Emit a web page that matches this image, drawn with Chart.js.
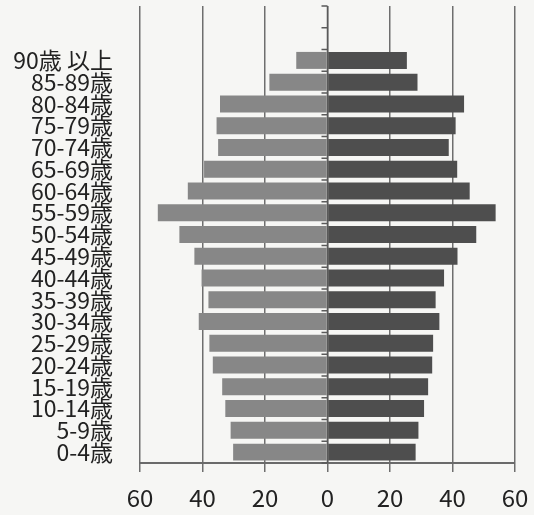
<!DOCTYPE html>
<html>
<head>
<meta charset="utf-8">
<script src="https://cdn.jsdelivr.net/npm/chart.js@4/dist/chart.umd.min.js"></script>
<style>
  html, body { margin: 0; padding: 0; background: #f6f6f4; }
  #wrap { width: 534px; height: 515px; }
</style>
</head>
<body>
<div id="wrap"><canvas id="c" width="534" height="515"></canvas></div>
<script>
// Age groups, youngest first; two unlabeled slots sit above the oldest group
const ageGroups = ['0-4歳', '5-9歳', '10-14歳', '15-19歳', '20-24歳', '25-29歳', '30-34歳',
  '35-39歳', '40-44歳', '45-49歳', '50-54歳', '55-59歳', '60-64歳', '65-69歳',
  '70-74歳', '75-79歳', '80-84歳', '85-89歳', '90歳 以上', '', ''];

// Left-hand side of the pyramid
const leftValues = [30.2, 31.0, 32.7, 33.7, 36.7, 37.8, 41.2, 38.1, 40.3, 42.6,
  47.4, 54.3, 44.7, 39.5, 35.0, 35.5, 34.4, 18.6, 10.0, null, null];

// Right-hand side of the pyramid
const rightValues = [28.2, 29.1, 30.9, 32.2, 33.5, 33.8, 35.8, 34.6, 37.3, 41.6,
  47.6, 53.8, 45.5, 41.5, 38.8, 41.0, 43.7, 28.8, 25.4, null, null];

// Value axis: shown as magnitudes on both sides of zero
const axisMin = -60;
const axisMax = 60;
const axisStep = 20;

// Centre axis with short category ticks pointing left
const centreAxis = {
  id: 'centreAxis',
  beforeDatasetsDraw(chart) {
    const { ctx, chartArea, scales } = chart;
    const x0 = scales.x.getPixelForValue(0);
    const y = scales.y;
    ctx.save();
    ctx.strokeStyle = '#5a5a5a';
    ctx.lineWidth = 1.5;
    ctx.beginPath();
    ctx.moveTo(x0, chartArea.top);
    ctx.lineTo(x0, chartArea.bottom);
    const n = ageGroups.length;
    for (let i = 0; i <= n; i++) {
      const yy = y.getPixelForValue(i - 0.5);
      ctx.moveTo(x0 - 6, yy);
      ctx.lineTo(x0, yy);
    }
    ctx.stroke();
    ctx.restore();
  }
};

new Chart(document.getElementById('c'), {
  type: 'bar',
  data: {
    labels: ageGroups,
    datasets: [
      {
        data: leftValues.map(v => v === null ? null : -v),
        backgroundColor: '#878787',
        barPercentage: 0.78,
        categoryPercentage: 1.0
      },
      {
        data: rightValues,
        backgroundColor: '#4e4e4e',
        barPercentage: 0.78,
        categoryPercentage: 1.0
      }
    ]
  },
  options: {
    indexAxis: 'y',
    responsive: false,
    animation: false,
    layout: { padding: { top: 6, right: 19, bottom: 4, left: 0 } },
    plugins: {
      legend: { display: false },
      tooltip: { enabled: false }
    },
    scales: {
      x: {
        stacked: true,
        min: axisMin,
        max: axisMax,
        afterFit: s => { s.paddingLeft = 0; s.paddingRight = 0; s.height = 48; },
        ticks: {
          stepSize: axisStep,
          padding: 11,
          color: '#222',
          font: { family: "'Noto Sans CJK JP', 'Noto Sans', sans-serif", size: 24 },
          callback: v => Math.abs(v)
        },
        grid: {
          color: '#6e6e6e',
          lineWidth: 1.5,
          tickLength: 9,
          drawOnChartArea: true
        },
        border: { display: true, color: '#6a6a6a', width: 2 }
      },
      y: {
        stacked: true,
        reverse: true,
        afterFit: s => { s.width = 140; s.paddingTop = 0; s.paddingBottom = 0; },
        grid: { display: false, drawTicks: false },
        border: { display: false },
        ticks: {
          autoSkip: false,
          padding: 27,
          color: '#222',
          font: { family: "'Noto Sans CJK JP', sans-serif", size: 23 }
        }
      }
    }
  },
  plugins: [centreAxis]
});
</script>
</body>
</html>
